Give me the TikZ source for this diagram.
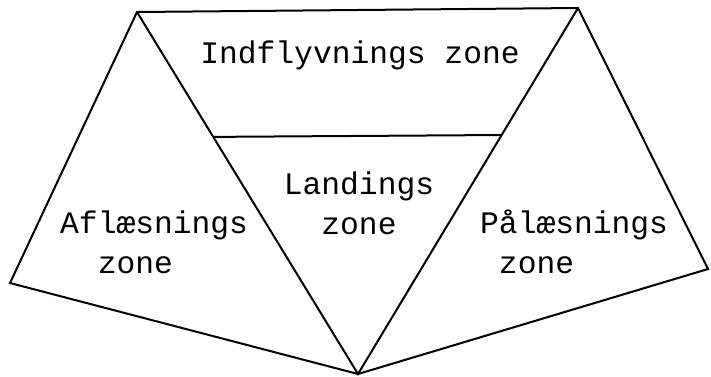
\documentclass[tikz,border=0pt]{standalone}
\usepackage{fontspec}
\setmonofont{Liberation Mono}
\usetikzlibrary{calc}

\begin{document}
\begin{tikzpicture}[
  x=1pt, y=-1pt,
  rim/.style={draw=black, line width=2pt, line join=miter},
  zonetext/.style={
    inner sep=0pt,
    align=left,
    font=\ttfamily\fontsize{31.3}{40}\selectfont
  }
]
\useasboundingbox (0,0) rectangle (711,376);

\coordinate (tl) at (137, 12);
\coordinate (tr) at (578, 8);
\coordinate (bot) at (358, 374);
\coordinate (left) at (10, 283);
\coordinate (right) at (708, 269);
\coordinate (inl) at ($(tl)!0.345!(bot)$);
\coordinate (inr) at ($(tr)!0.347!(bot)$);

\draw[rim] (left) -- (tl) -- (tr) -- (right) -- (bot) -- cycle;
\draw[rim] (tl) -- (bot) -- (tr);
\draw[rim] (inl) -- (inr);

\node[zonetext, anchor=base] (indfly) at (360, 63) {Indflyvnings zone};
\node[zonetext, anchor=base west] (aflas) at (60, 273) {Aflæsnings\\\phantom{Af}zone};
\node[zonetext, anchor=base, align=center] (landing) at (359, 234) {Landings\\zone};
\node[zonetext, anchor=base west] (palas) at (480, 273) {Pålæsnings\\\phantom{P}zone};

\end{tikzpicture}
\end{document}
